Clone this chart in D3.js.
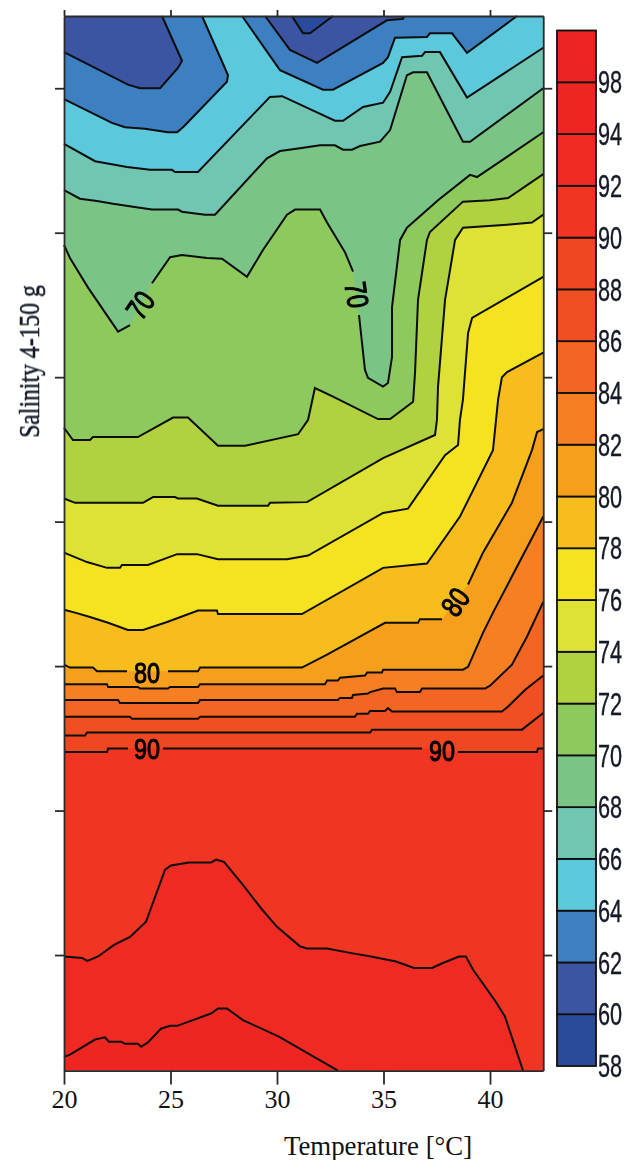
<!DOCTYPE html>
<html>
<head>
<meta charset="utf-8">
<title>Salinity / temperature contour</title>
<script src="https://cdn.jsdelivr.net/npm/d3@7"></script>
<style>
  html, body { margin: 0; padding: 0; background: #fff; }
  svg { display: block; }
</style>
</head>
<body>
<div id="chart-area"></div>
<script>
// Isolines, as [temperature, salinity]. null = gap left for a label.
const line60 = [[30.70,150],[31.22,147.6],[31.55,147.6],[32.63,150]];
const line62a = [[20,145],[23,140.5],[23.57,140],[24.51,140],[25.35,142.8],[25.54,143.8],[24.6,150]];
const line62b = [[29.44,150],[30.61,145.3],[31.88,143.5],[35.16,149.4],[35.92,149.6],[35.96,150]];
const line64a = [[20,138.5],[22.25,135.2],[22.86,134.6],[23.8,134.4],[24.88,133.9],[25.31,133.9],[25.59,134.6],[27.65,140.9],[27.7,141.8],[26.48,150]];
const line64b = [[28.36,150],[30.14,142.5],[32.16,139.8],[32.63,139.8],[34.98,143.5],[35.21,144.3],[35.54,147],[37.04,147.1],[37.18,147.6],[38.22,147.6],[38.92,144.9],[41.27,150]];
const line66 = [[20,132.3],[21.46,129.9],[22.96,129.1],[24.04,128.7],[25.07,128.7],[25.21,128.4],[26.29,128.4],[29.67,138.8],[30.24,138.9],[32.72,135.5],[33.1,135.5],[34.04,137.4],[34.98,138],[35.31,139.5],[35.87,144.3],[36.81,144.5],[36.95,145],[37.65,145],[38.92,138.7],[42.5,145.6]];
const line68 = [[20,125.9],[20.75,124.7],[21.55,124.4],[22.3,124],[23.24,123.6],[24.13,123.2],[25.35,123.2],[25.54,122.9],[26.62,122.5],[27.09,122.5],[29.53,130.3],[30.14,131.3],[31.08,131.7],[32.02,132.1],[32.72,132.1],[33.1,131.5],[33.52,131.5],[33.9,132],[34.84,132.6],[35.31,134.2],[36.1,141.8],[36.39,142.2],[37.04,142.2],[38.73,132.6],[39.06,132.6],[42.5,140]];
const line70 = [[20,118.3],[20.28,116.5],[21.13,112.4],[22.54,106.3],[23.1,107.2],null,[24.13,113],[24.98,116.6],[25.54,116.9],[26.71,116.5],[27.42,116.4],[28.59,113.9],[29.34,117.6],[30.47,122.5],[30.85,123.2],[32.02,123.2],[32.35,121.4],[33.19,117.3],[33.57,114.6],null,[33.85,108.6],[34.13,101],[34.27,99.9],[34.98,98.7],[35.21,99.2],[35.4,102.8],[35.4,109.7],[35.78,119],[36.1,120.7],[37.56,124.5],[39.06,128],[39.39,127.7],[42.5,133.9]];
const line72 = [[20,93],[20.42,91.3],[21.22,91.3],[21.36,91.7],[23.47,91.7],[25.12,94.4],[25.82,94.4],[27.23,90.5],[28.5,90.5],[30.99,92.1],[31.46,94.1],[31.78,98.5],[32.63,97.3],[34.74,94.2],[35.31,94.2],[36.39,96.6],[36.48,100.6],[36.62,110.7],[37.04,119],[37.18,120.1],[38.73,124.3],[40,124.5],[40.85,124.8],[42.5,128.1]];
const line74 = [[20,83.2],[20.52,82.6],[23.71,82.6],[24.18,83.4],[25.21,83.4],[25.35,83.2],[26.24,83.2],[27.23,82.2],[29.58,82.2],[29.67,82.6],[31.41,82.7],[34.98,88.8],[37.42,92],[37.51,94.1],[37.56,98.7],[37.89,110.7],[38.36,119],[38.73,120.7],[40.8,121.1],[41.97,121.4],[42.5,122.5]];
const line76 = [[20,75.7],[21.08,74.4],[22.02,73.6],[22.63,73.6],[22.72,74],[23.94,74],[25.31,75.5],[26.24,75.5],[27.23,74.8],[30.47,74.8],[31.46,75.3],[34.98,81.2],[36.15,81.8],[37.89,89.2],[38.5,90.6],[38.59,94.1],[38.73,96.9],[38.97,106.1],[39.16,108.2],[42.5,113.9]];
const line78 = [[20,67.8],[20.52,67.4],[21.22,66.8],[22.07,66],[23,65],[23.71,65],[24.84,66.1],[26.29,67.7],[27.18,67.7],[27.23,67.2],[31.17,67.2],[34.98,73.6],[37.04,74.2],[38.59,80.7],[40.14,89.9],[40.38,96.9],[40.56,100],[40.8,100.7],[42.5,103.4]];
const line80 = [[20,60.2],[20.28,59.8],[21.36,59.8],[21.55,59.3],[22.96,59.3],null,[24.88,59.3],[26.29,59.3],[26.39,59.8],[31.17,59.8],[32.35,61.6],[35.07,66],[36.62,66],[36.71,66.5],[37.75,66.5],null,[38.97,71.3],[39.67,75.7],[41.03,82.6],[41.97,89.9],[42.21,92.4],[42.5,92.8]];
const line82 = [[20,57.5],[22.02,57.5],[22.07,57.1],[23.47,57.1],[23.57,56.9],[24.88,56.9],[24.98,57.1],[26.29,57.1],[26.39,57.5],[32.25,57.5],[32.35,58],[32.86,58],[32.96,58.4],[34.13,58.7],[34.23,59.1],[34.93,59.1],[34.98,59.5],[38.73,59.5],[38.97,59.9],[39.67,64.6],[40.14,67.4],[42.5,80.7]];
const line84 = [[20,55.3],[22.54,55.3],[22.63,54.9],[26.29,54.9],[26.39,55.3],[32.86,55.3],[32.96,55.6],[33.52,55.6],[33.57,56],[34.27,56.2],[34.37,56.4],[34.98,56.9],[35.54,56.9],[35.63,56.4],[36.71,56.4],[36.81,56.9],[39.77,56.9],[40,57.3],[41.03,60.2],[41.74,64.1],[42.5,68.9]];
const line86 = [[20,53],[23.1,53],[23.19,52.7],[26.29,52.7],[26.39,53],[33.66,53],[33.76,53.4],[34.27,53.4],[34.37,53.8],[35.07,53.8],[35.21,54.2],[35.4,53.7],[40.56,53.7],[40.85,54.4],[41.64,56.7],[42.5,58.7]];
const line88 = [[20,50.4],[20.99,50.4],[21.08,50.8],[34.37,50.8],[34.46,51.2],[41.5,51.2],[42.5,53.5]];
const line90 = [[20,48.1],[22.02,48.1],[22.07,48.6],[23,48.6],null,[24.65,48.6],[36.81,48.6],null,[38.5,48.1],[42.21,48.1],[42.25,48.6],[42.5,48.6]];
const line92 = [[20,19.8],[20.85,19.6],[21.1,19.2],[21.6,19.8],[22.35,21.4],[23.1,22.5],[23.85,24.6],[24.74,31.8],[25.02,32.4],[25.87,32.8],[26.9,32.8],[27.14,33.2],[27.51,32.9],[28.4,29.7],[29.3,26.3],[30,23.9],[31.08,21.2],[31.41,20.9],[32.35,20.9],[33.43,20.3],[34.41,19.8],[35.59,19.1],[36.43,18.2],[37.28,18.2],[37.79,18.9],[38.55,19.8],[38.87,19.8],[39.2,18],[40.28,13.5],[40.7,11.5],[41.55,4]];
const line94 = [[20,5.9],[20.28,6.2],[21.46,8.3],[21.92,8.6],[22.11,8],[22.68,8],[22.86,7.7],[23.47,7.7],[23.62,7.3],[23.94,7.9],[24.55,9.8],[24.98,10.2],[25.31,10.2],[26.9,11.9],[27.23,12.6],[27.65,12.6],[28.4,11],[30.09,8.7],[32.86,4]];

// Band colours, lowest band (58-60) first
const bandColours = ["#2b4b9b","#3a55a3","#3e80c1","#5cc8dc","#6fc6b1","#7ac486","#8dc95d","#b0d23f","#dee236",
  "#f5e320","#f7bd1c","#f69f1e","#f57f20","#f26522","#f05023","#ef4623","#f03424","#ef2c24","#ee2724","#ed2224"];
const barLevels = [58,60,62,64,66,68,70,72,74,76,78,80,82,84,86,88,90,92,94,96];
// the picture prints 98 where 96 would be, and has no 96
const barLabels = ["58","60","62","64","66","68","70","72","74","76","78","80","82","84","86","88","90","92","94","98"];

const xTicks = [20,25,30,35,40];
const yTicks = [20,40,60,80,100,120,140];

// Contour labels
const labelText = ["70","70","80","80","90","90"];
const labelTemp = [23.57,33.76,23.9,38.36,23.9,37.75];
const labelSal = [110,111.4,59.2,68.9,48.6,48.4];
const labelAngle = [-55,82,0,-55,0,0];

// Each line closes towards its low-value side through these corners
const TL = [20,150], TR = [42.5,150], BR = [42.5,4];
const isolines = [
  [94, line94, [BR,TR,TL]],
  [92, line92, [BR,TR,TL]],
  [90, line90, [TR,TL]],
  [88, line88, [TR,TL]],
  [86, line86, [TR,TL]],
  [84, line84, [TR,TL]],
  [82, line82, [TR,TL]],
  [80, line80, [TR,TL]],
  [78, line78, [TR,TL]],
  [76, line76, [TR,TL]],
  [74, line74, [TR,TL]],
  [72, line72, [TR,TL]],
  [70, line70, [TR,TL]],
  [68, line68, [TR,TL]],
  [66, line66, [TR,TL]],
  [64, line64a, [TL]],
  [64, line64b, []],
  [62, line62a, [TL]],
  [62, line62b, []],
  [60, line60, []]
];

const svg = d3.select("#chart-area")
  .append("svg")
  .attr("width", 627)
  .attr("height", 1160);

// the source is a soft scan, so the plot gets a slight blur
const defs = svg.append("defs");
defs.append("filter").attr("id", "soft")
  .attr("x", "-5%").attr("y", "-5%").attr("width", "110%").attr("height", "110%")
  .append("feGaussianBlur").attr("stdDeviation", 0.55);

const xScale = d3.scaleLinear().domain([20, 42.5]).range([64, 543.25]);
const yScale = d3.scaleLinear().domain([4, 150]).range([1070.6, 16]);
const barScale = d3.scaleLinear().domain([58, 98]).range([1066, 30.5]);

const lineGen = d3.line()
  .defined(d => d)
  .x(d => xScale(d[0]))
  .y(d => yScale(d[1]));

const plot = svg.append("g").attr("filter", "url(#soft)");

// Filled bands: start from the top band, paint each lower region over it
plot.append("rect")
  .attr("x", xScale(20))
  .attr("y", yScale(150))
  .attr("width", xScale(42.5) - xScale(20))
  .attr("height", yScale(4) - yScale(150))
  .attr("fill", bandColours[18]);

plot.selectAll(".band")
  .data(isolines)
  .enter()
  .append("path")
  .attr("class", "band")
  .attr("fill", d => bandColours[barLevels.indexOf(d[0]) - 1])
  .attr("d", d => lineGen(d[1].filter(p => p).concat(d[2])) + "Z");

plot.selectAll(".contour")
  .data(isolines)
  .enter()
  .append("path")
  .attr("class", "contour")
  .attr("fill", "none")
  .attr("stroke", "#0c0c0c")
  .attr("stroke-width", 2)
  .attr("d", d => lineGen(d[1]));

// Contour labels, squeezed sideways like the source
plot.selectAll(".contour-label")
  .data(labelText)
  .enter()
  .append("text")
  .attr("class", "contour-label")
  .attr("transform", (d, i) => `translate(${xScale(labelTemp[i])},${yScale(labelSal[i])}) rotate(${labelAngle[i]}) scale(0.78,1)`)
  .attr("text-anchor", "middle")
  .attr("dy", "0.36em")
  .style("font-family", "'Liberation Sans',sans-serif")
  .style("font-size", "30px")
  .style("fill", "#000")
  .style("stroke", "#000")
  .style("stroke-width", 1.1)
  .text(d => d);

// Axes: x labelled below, the other three sides only carry ticks
const xAxisGroup = svg.append("g")
  .attr("transform", `translate(0,${yScale(4)})`)
  .call(d3.axisBottom(xScale).tickValues(xTicks).tickSizeInner(14).tickSizeOuter(0).tickPadding(5));
const xTopGroup = svg.append("g")
  .attr("transform", `translate(0,${yScale(150)})`)
  .call(d3.axisTop(xScale).tickValues(xTicks).tickSizeInner(6).tickSizeOuter(0).tickFormat(""));
const yAxisGroup = svg.append("g")
  .attr("transform", `translate(${xScale(20)},0)`)
  .call(d3.axisLeft(yScale).tickValues(yTicks).tickSizeInner(9).tickSizeOuter(0).tickFormat(""));
const yRightGroup = svg.append("g")
  .attr("transform", `translate(${xScale(42.5)},0)`)
  .call(d3.axisRight(yScale).tickValues(yTicks).tickSizeInner(9).tickSizeOuter(0).tickFormat(""));

[xAxisGroup, xTopGroup, yAxisGroup, yRightGroup].forEach(a => {
  a.selectAll("line, path").style("stroke", "#2a2a2a").style("stroke-width", 1.8);
});
xAxisGroup.selectAll("text")
  .style("font-family", "'Liberation Serif',serif")
  .style("font-size", "26px")
  .style("fill", "#111");

svg.append("text")
  .attr("x", 378)
  .attr("y", 1155)
  .attr("text-anchor", "middle")
  .style("font-family", "'Liberation Serif',serif")
  .style("font-size", "26.8px")
  .style("fill", "#111")
  .text("Temperature [°C]");

svg.append("text")
  .attr("transform", "translate(39,361.5) rotate(-90) scale(0.79,1)")
  .attr("text-anchor", "middle")
  .attr("filter", "url(#soft)")
  .style("font-family", "'Liberation Serif',serif")
  .style("font-size", "30px")
  .style("fill", "#141a28")
  .style("stroke", "#141a28")
  .style("stroke-width", 0.5)
  .text("Salinity 4-150 g");

// Colour bar
const barG = svg.append("g").attr("filter", "url(#soft)");

barG.selectAll(".bar-band")
  .data(barLevels)
  .enter()
  .append("rect")
  .attr("class", "bar-band")
  .attr("x", 557)
  .attr("width", 39)
  .attr("y", (d, i) => barScale(i === 19 ? 98 : d + 2))
  .attr("height", (d, i) => barScale(d) - barScale(i === 19 ? 98 : d + 2))
  .attr("fill", (d, i) => bandColours[i])
  .attr("stroke", "#111")
  .attr("stroke-width", 1.8);

barG.selectAll(".bar-label")
  .data(barLabels)
  .enter()
  .append("text")
  .attr("class", "bar-label")
  .attr("transform", (d, i) => `translate(598,${barScale(barLevels[i])}) scale(0.7,1)`)
  .attr("dy", "0.36em")
  .style("font-family", "'Liberation Sans',sans-serif")
  .style("font-size", "31px")
  .style("fill", "#141a28")
  .style("stroke", "#141a28")
  .style("stroke-width", 0.4)
  .text(d => d);
</script>
</body>
</html>
